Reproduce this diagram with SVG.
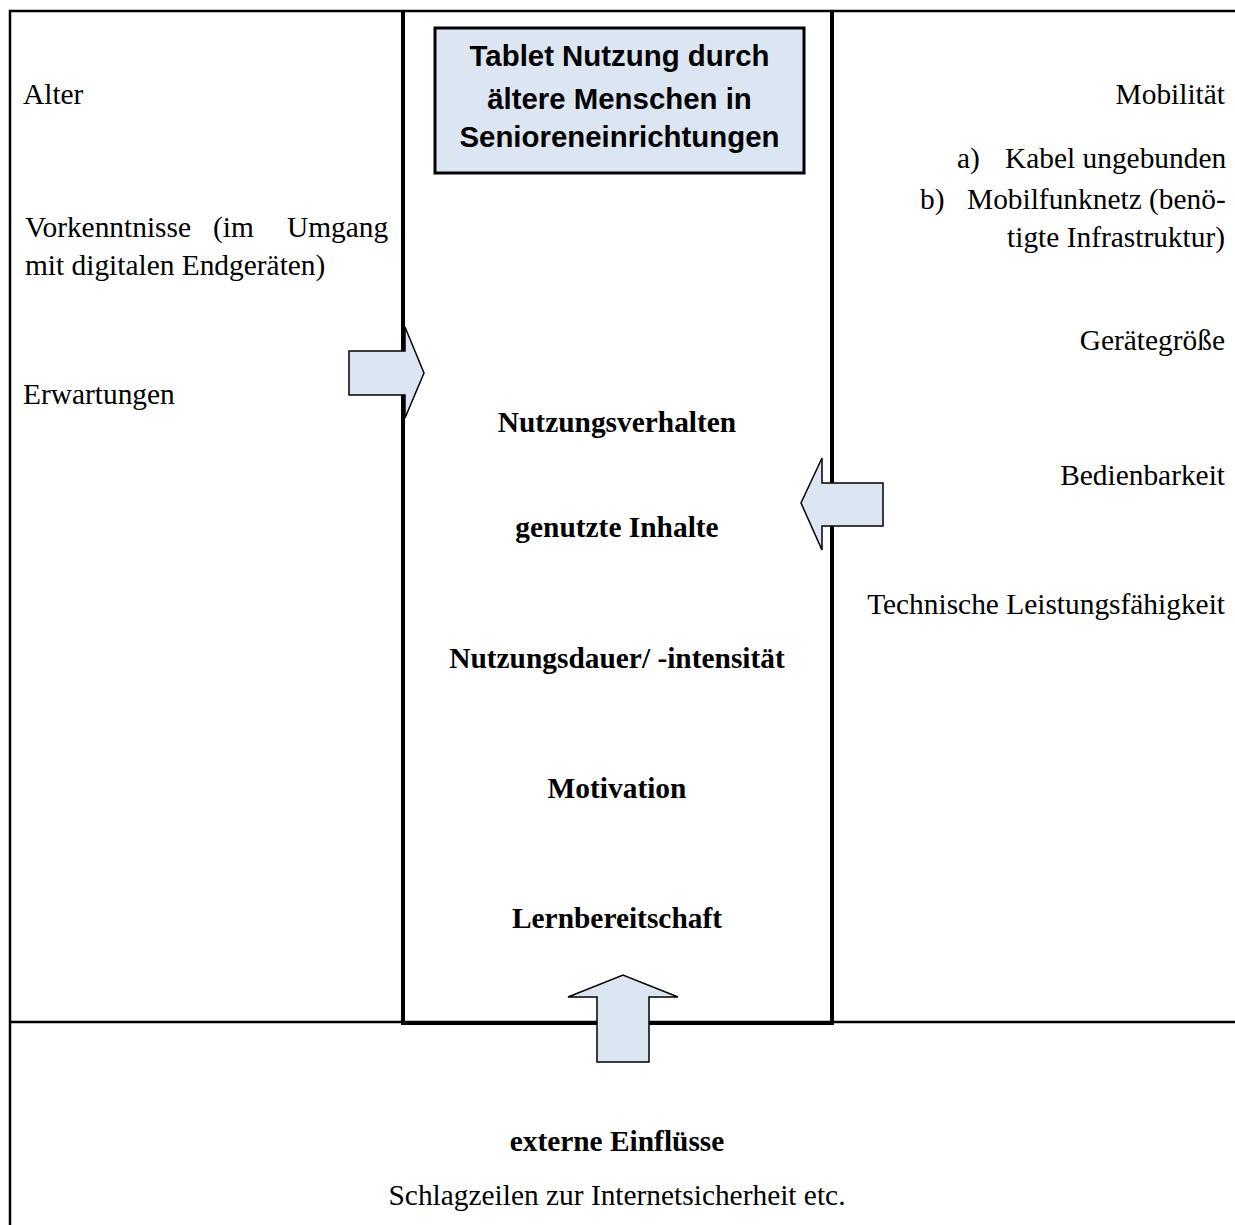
<svg xmlns="http://www.w3.org/2000/svg" width="1235" height="1225" viewBox="0 0 1235 1225">
<style>
.t{font-family:"Liberation Serif","Times New Roman",serif;font-size:29.4px;fill:#000}
.b{font-family:"Liberation Serif","Times New Roman",serif;font-size:29.4px;font-weight:bold;fill:#000;text-anchor:middle}
.r{text-anchor:end}
.h{font-family:"Liberation Sans",Arial,sans-serif;font-size:29.4px;font-weight:bold;fill:#000;text-anchor:middle}
.arrow{fill:#dce6f2;stroke:#000;stroke-width:1.5;stroke-linejoin:miter}
.line{fill:none;stroke:#000}
</style>
<rect width="1235" height="1225" fill="#fff"/>
<g id="frame">
<path class="line" stroke-width="2.5" d="M10,1225 V11 H1235"/>
<path class="line" stroke-width="2.5" d="M10,1022 H1235"/>
</g>
<g id="center">
<path class="line" stroke-width="4" d="M403,11 V1023 H832 V11"/>
<rect x="435" y="28" width="369" height="145" fill="#dce6f2" stroke="#000" stroke-width="3"/>
<text class="h" x="619.5" y="66">Tablet Nutzung durch</text>
<text class="h" x="619.5" y="109">ältere Menschen in</text>
<text class="h" x="619.5" y="147">Senioreneinrichtungen</text>
<text class="b" x="617" y="432">Nutzungsverhalten</text>
<text class="b" x="617" y="537">genutzte Inhalte</text>
<text class="b" x="617" y="668">Nutzungsdauer/ -intensität</text>
<text class="b" x="617" y="798">Motivation</text>
<text class="b" x="617" y="928">Lernbereitschaft</text>
</g>
<g id="left">
<text class="t" x="23" y="104">Alter</text>
<text class="t" y="237"><tspan x="25">Vorkenntnisse</tspan><tspan x="213">(im</tspan><tspan x="287">Umgang</tspan></text>
<text class="t" x="25" y="275">mit digitalen Endgeräten)</text>
<text class="t" x="23" y="404">Erwartungen</text>
</g>
<g id="right">
<text class="t r" x="1225" y="104">Mobilität</text>
<text class="t" y="168"><tspan x="957">a)</tspan><tspan x="1005">Kabel ungebunden</tspan></text>
<text class="t" y="209"><tspan x="920">b)</tspan><tspan x="967">Mobilfunknetz (benö-</tspan></text>
<text class="t r" x="1225" y="247">tigte Infrastruktur)</text>
<text class="t r" x="1225" y="350">Gerätegröße</text>
<text class="t r" x="1225" y="485">Bedienbarkeit</text>
<text class="t r" x="1225" y="614">Technische Leistungsfähigkeit</text>
</g>
<g id="bottom">
<text class="b" x="617" y="1151">externe Einflüsse</text>
<text class="t" x="617" y="1205" text-anchor="middle">Schlagzeilen zur Internetsicherheit etc.</text>
</g>
<g id="connectors">
<polygon class="arrow" points="349,351 405,351 405,327 424,373 405,418 405,395 349,395"/>
<polygon class="arrow" points="883,483 822,483 822,458 801,503 822,550 822,526 883,526"/>
<polygon class="arrow" points="597,1062 597,997 568,997 623,975 678,997 649,997 649,1062"/>
</g>
</svg>
